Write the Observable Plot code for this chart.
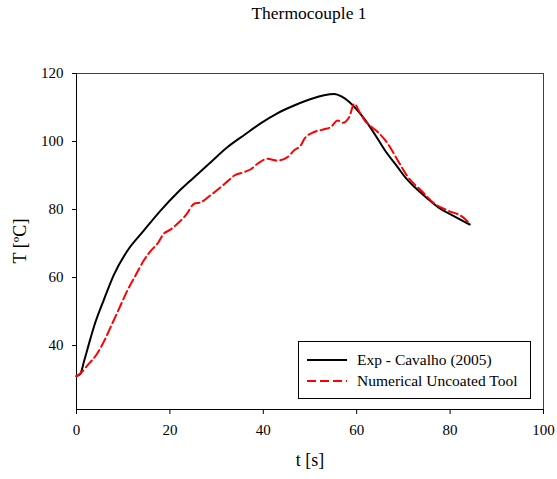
<!DOCTYPE html>
<html>
<head>
<meta charset="utf-8">
<script src="https://cdn.jsdelivr.net/npm/d3@7"></script>
<script src="https://cdn.jsdelivr.net/npm/@observablehq/plot@0.6"></script>
<style>
  body { margin: 0; background: #fff; }
  #wrap { position: relative; width: 557px; height: 479px; font-family: 'Liberation Serif', 'DejaVu Serif', serif; color: #000; }
  #wrap svg text, #wrap svg { font-family: 'Liberation Serif', 'DejaVu Serif', serif !important; }
  #title { position: absolute; left: 0; width: 618px; top: 3px; text-align: center; font-size: 17.5px; }
  #ylabel { position: absolute; left: 20px; top: 241px; transform: translate(-50%, -50%) rotate(-90deg); font-size: 18px; white-space: nowrap; }
  #legend { position: absolute; left: 298px; top: 341px; width: 231px; height: 56px; border: 1px solid #000; background: #fff; font-size: 15.5px; }
  #legend .row { position: absolute; left: 0; height: 20px; display: flex; align-items: center; }
  #legend svg { margin-left: 8px; margin-right: 10px; }
</style>
</head>
<body>
<div id="wrap">
  <div id="title">Thermocouple 1</div>
  <div id="chart"></div>
  <div id="ylabel"></div>
  <div id="legend"></div>
</div>
<script>
const seriesNames = ["Exp - Cavalho (2005)", "Numerical Uncoated Tool"];
const seriesColors = ["#000000", "#ff0000"];
const xLabel = "t [s]";
const yLabel = "T [ºC]";

const expT = [0, 0.8, 1.6, 2.6, 3.7, 5.9, 8, 10.9, 14.4, 18, 21.5, 25.2, 28.8, 32.3, 36, 39.5, 43, 46.6, 49, 50.9, 53, 55.2, 56.8, 58.1, 60.2, 62, 63.8, 66, 68.8, 70.5, 72.4, 75, 77.4, 80.5, 84.2];
const expV = [31, 31.6, 35.3, 40.2, 45.4, 53.6, 60.8, 67.9, 73.8, 79.7, 84.8, 89.5, 94, 98.3, 102, 105.4, 108.3, 110.6, 111.9, 112.8, 113.6, 114.0, 113.2, 112.0, 109.1, 106, 102.3, 97.5, 92.4, 89.3, 86.6, 83.4, 80.7, 78.3, 75.6];

const numT = [0, 1, 2.3, 4.4, 5.8, 7.3, 9, 10.9, 12.6, 14.4, 16, 17.3, 18.7, 20, 21.6, 23.5, 25.2, 26.6, 28.8, 30.9, 32.5, 33.8, 35.9, 37.5, 38.7, 40.9, 43, 45.2, 46.6, 48.1, 48.8, 50.9, 53, 54.5, 55.9, 57, 58.4, 59.5, 60.5, 61.7, 63, 64.5, 66.7, 68.8, 71, 73.8, 76.7, 79.5, 82.8, 84.2];
const numV = [31, 32, 34.1, 37.6, 41, 45.4, 50.5, 56.2, 60.5, 65.0, 68, 69.9, 72.9, 74, 75.8, 78.5, 81.7, 82.1, 84.3, 86.6, 88.5, 90.0, 91.0, 92, 93.4, 94.9, 94.4, 95.4, 97.4, 99, 100.8, 102.8, 103.6, 104.3, 106.2, 105.5, 107.2, 111.1, 109, 106.2, 104.5, 102.8, 99.3, 94.4, 89.5, 85.6, 81.7, 79.7, 77.7, 75.8];

const xTicks = [0, 20, 40, 60, 80, 100];
const yTicks = [40, 60, 80, 100, 120];
const xDomain = [0, 100];
const yDomain = [21.2, 120];

const exp = expT.map((t, i) => ({t, v: expV[i]}));
const num = numT.map((t, i) => ({t, v: numV[i]}));

const chart = Plot.plot({
  width: 557,
  height: 479,
  marginLeft: 76,
  marginRight: 14,
  marginTop: 73,
  marginBottom: 70,
  style: { fontFamily: "'Liberation Serif', 'DejaVu Serif', serif", fontSize: "15px", color: "#000", background: "#fff" },
  x: { domain: xDomain },
  y: { domain: yDomain },
  marks: [
    Plot.frame({ stroke: "#404040" }),
    Plot.ruleX([xDomain[0]], { stroke: "#000" }),
    Plot.ruleY([yDomain[0]], { stroke: "#000" }),
    Plot.axisX({ ticks: xTicks, tickSize: 5, tickPadding: 10, label: null, fontSize: 15 }),
    Plot.axisX({ ticks: [], label: xLabel, labelAnchor: "center", labelOffset: 56, labelArrow: "none", fontSize: 18 }),
    Plot.axisY({ ticks: yTicks, tickSize: 4, tickPadding: 9, label: null, fontSize: 15 }),
    Plot.line(exp, { x: "t", y: "v", stroke: seriesColors[0], strokeWidth: 2, curve: "monotone-x" }),
    Plot.line(num, { x: "t", y: "v", stroke: seriesColors[1], strokeWidth: 2, strokeDasharray: "9,4", curve: "monotone-x" })
  ]
});
document.getElementById("chart").appendChild(chart);
document.getElementById("ylabel").textContent = yLabel;

const legend = document.getElementById("legend");
seriesNames.forEach((name, i) => {
  const row = document.createElement("div");
  row.className = "row";
  row.style.top = (8 + i * 21) + "px";
  row.innerHTML = `<svg width="40" height="4"><line x1="0" x2="40" y1="2" y2="2" stroke="${seriesColors[i]}" stroke-width="2" ${i === 1 ? 'stroke-dasharray="9,4"' : ''}/></svg><span>${name}</span>`;
  legend.appendChild(row);
});
</script>
</body>
</html>
